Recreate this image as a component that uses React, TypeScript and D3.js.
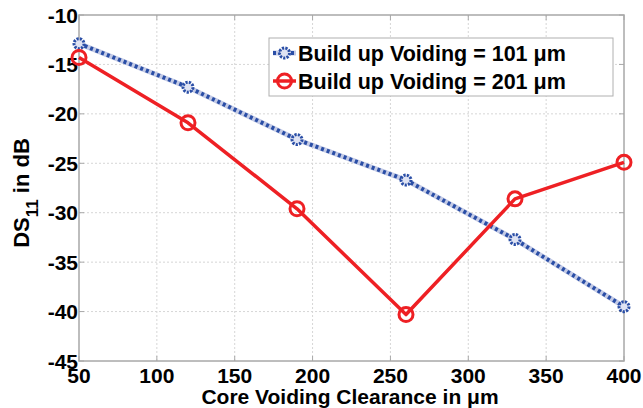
import React from "react";
import * as d3 from "d3";

const clearance = [50, 120, 190, 260, 330, 400];
const voiding101 = [-12.9, -17.3, -22.6, -26.7, -32.7, -39.5];
const voiding201 = [-14.3, -20.9, -29.6, -40.3, -28.6, -24.9];
const xTicks = [50, 100, 150, 200, 250, 300, 350, 400];
const yTicks = [-10, -15, -20, -25, -30, -35, -40, -45];
const legendLabels = ["Build up Voiding = 101 \u03bcm", "Build up Voiding = 201 \u03bcm"];

const W = 643;
const H = 408;
const M = { left: 79, right: 624, top: 15, bottom: 361 };
const FONT = "Liberation Sans, Arial, sans-serif";
const BLUE = "#2a4ea6";
const BLUE_HALO = "#c4cbe6";
const RED = "#ee2024";

export default function App() {
  const x = d3.scaleLinear().domain([50, 400]).range([M.left, M.right]);
  const y = d3.scaleLinear().domain([-45, -10]).range([M.bottom, M.top]);
  const line = d3
    .line<number>()
    .x((_, i) => x(clearance[i]))
    .y((d) => y(d));

  const p101 = line(voiding101) || "";
  const p201 = line(voiding201) || "";

  return (
    <svg
      width={W}
      height={H}
      style={{ position: "absolute", left: 0, top: 0, background: "#fff" }}
      fontFamily={FONT}
    >
      {/* grid */}
      {xTicks.slice(1, -1).map((t) => (
        <line key={"gx" + t} x1={x(t)} x2={x(t)} y1={M.top} y2={M.bottom} stroke="#d6d6d6" strokeWidth={1} strokeDasharray="2,2" />
      ))}
      {yTicks.slice(1, -1).map((t) => (
        <line key={"gy" + t} x1={M.left} x2={M.right} y1={y(t)} y2={y(t)} stroke="#d6d6d6" strokeWidth={1} strokeDasharray="2,2" />
      ))}

      {/* axes box */}
      <rect x={M.left} y={M.top} width={M.right - M.left} height={M.bottom - M.top} fill="none" stroke="#a8a8a8" strokeWidth={1.5} />
      {xTicks.map((t) => (
        <g key={"tx" + t}>
          <line x1={x(t)} x2={x(t)} y1={M.bottom} y2={M.bottom - 5} stroke="#a8a8a8" />
          <line x1={x(t)} x2={x(t)} y1={M.top} y2={M.top + 5} stroke="#a8a8a8" />
          <text x={x(t)} y={M.bottom + 22} textAnchor="middle" fontSize={21} fontWeight="bold" fill="#000">
            {t}
          </text>
        </g>
      ))}
      {yTicks.map((t) => (
        <g key={"ty" + t}>
          <line x1={M.left} x2={M.left + 5} y1={y(t)} y2={y(t)} stroke="#a8a8a8" />
          <line x1={M.right} x2={M.right - 5} y1={y(t)} y2={y(t)} stroke="#a8a8a8" />
          <text x={M.left - 1} y={y(t) + 7.5} textAnchor="end" fontSize={21} fontWeight="bold" fill="#000">
            {t}
          </text>
        </g>
      ))}

      {/* series: build up voiding 101 */}
      <path d={p101} fill="none" stroke={BLUE_HALO} strokeWidth={5} />
      <path d={p101} fill="none" stroke={BLUE} strokeWidth={4} strokeDasharray="3,3" />
      {voiding101.map((v, i) => (
        <circle key={"b" + i} cx={x(clearance[i])} cy={y(v)} r={5} fill="#dfe3f3" stroke={BLUE} strokeWidth={3} strokeDasharray="2.2,1.2" />
      ))}

      {/* series: build up voiding 201 */}
      <path d={p201} fill="none" stroke={RED} strokeWidth={3.5} strokeLinejoin="round" />
      {voiding201.map((v, i) => (
        <circle key={"r" + i} cx={x(clearance[i])} cy={y(v)} r={7} fill="none" stroke={RED} strokeWidth={3} />
      ))}

      {/* legend */}
      <rect x={269} y={38} width={344} height={58} fill="#fff" stroke="#b0b0b0" strokeWidth={1} />
      <line x1={273} x2={296} y1={53} y2={53} stroke={BLUE_HALO} strokeWidth={5} />
      <line x1={273} x2={296} y1={53} y2={53} stroke={BLUE} strokeWidth={4} strokeDasharray="3,3" />
      <circle cx={284.5} cy={53} r={5} fill="#dfe3f3" stroke={BLUE} strokeWidth={3} strokeDasharray="2.2,1.2" />
      <text x={298} y={60.5} fontSize={21.5} fontWeight="bold" fill="#000">
        {legendLabels[0]}
      </text>
      <line x1={273} x2={296} y1={81} y2={81} stroke={RED} strokeWidth={3.5} />
      <circle cx={284.5} cy={81} r={7} fill="none" stroke={RED} strokeWidth={3} />
      <text x={298} y={88.5} fontSize={21.5} fontWeight="bold" fill="#000">
        {legendLabels[1]}
      </text>

      {/* axis labels */}
      <text x={350} y={403.5} textAnchor="middle" fontSize={21} fontWeight="bold" fill="#000">
        Core Voiding Clearance in {"\u03bc"}m
      </text>
      <text transform={`translate(29,193) rotate(-90)`} textAnchor="middle" fontSize={22} fontWeight="bold" fill="#000">
        DS
        <tspan dy={9} fontSize={17}>11</tspan>
        <tspan dy={-9}> in dB</tspan>
      </text>
    </svg>
  );
}
